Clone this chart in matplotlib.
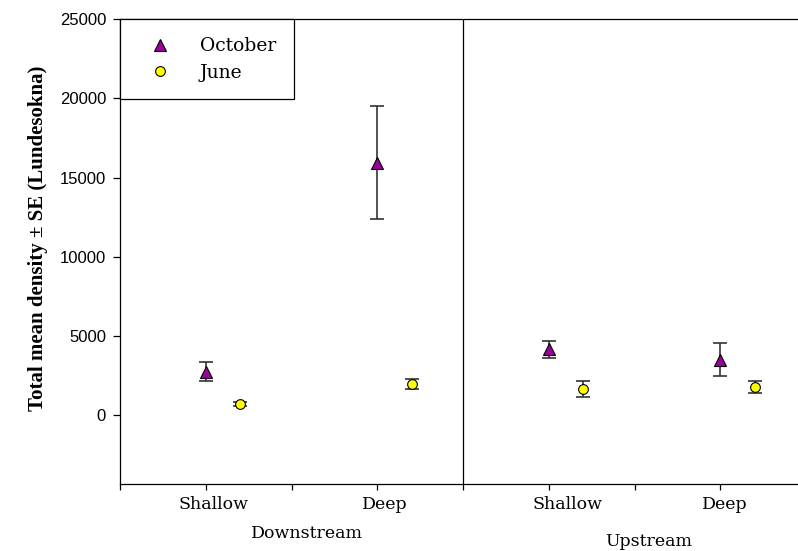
import matplotlib
matplotlib.use('Agg')
import matplotlib.pyplot as plt

# site / depth groups
groups = ['Downstream Shallow', 'Downstream Deep', 'Upstream Shallow', 'Upstream Deep']
x_pos = [1, 3, 5, 7]

# October values (mean, SE)
oct_mean = [2750, 15950, 4150, 3500]
oct_se = [580, 3580, 560, 1050]

# June values (mean, SE)
jun_mean = [700, 1980, 1650, 1780]
jun_se = [100, 330, 530, 380]

# category labels under the axis
tick_labels = ['Shallow', 'Deep', 'Shallow', 'Deep']
tick_label_pos = [1.09, 3.09, 5.22, 7.05]
site_labels = ['Downstream', 'Upstream']

june_x = [x + 0.4 for x in x_pos]

fig = plt.figure(figsize=(7.98, 5.51), dpi=100)
ax = fig.add_axes([120 / 798, 67 / 551, 686 / 798, 464.7 / 551])

# error bars first, markers on top
ax.errorbar(x_pos, oct_mean, yerr=oct_se, fmt='none', ecolor='#333333',
            elinewidth=1.2, capsize=5, capthick=1.2, zorder=2)
ax.errorbar(june_x, jun_mean, yerr=jun_se, fmt='none', ecolor='#333333',
            elinewidth=1.2, capsize=5, capthick=1.2, zorder=2)
ax.plot(x_pos, oct_mean, linestyle='none', marker='^', markersize=9,
        markerfacecolor='#9c009c', markeredgecolor='black', markeredgewidth=0.8,
        label='October', zorder=3)
ax.plot(june_x, jun_mean, linestyle='none', marker='o', markersize=7,
        markerfacecolor='#ffff00', markeredgecolor='black', markeredgewidth=0.8,
        label='June', zorder=3)

# divider between downstream and upstream
ax.axvline(4, color='black', linewidth=0.9, zorder=1)

ax.set_xlim(0, 8)
ax.set_ylim(-4350, 25000)

ax.set_yticks([0, 5000, 10000, 15000, 20000, 25000])
ax.set_yticklabels(['0', '5000', '10000', '15000', '20000', '25000'],
                   family='Liberation Sans', fontsize=12)
ax.set_xticks(range(0, 9))
ax.set_xticklabels([])
ax.tick_params(axis='y', direction='out', length=5, width=0.9, pad=5)
ax.tick_params(axis='x', direction='out', length=4, width=0.9)

for s in ['left', 'bottom', 'top']:
    ax.spines[s].set_linewidth(0.9)
ax.spines['right'].set_visible(False)

for lab, xp in zip(tick_labels, tick_label_pos):
    ax.text(xp, -0.045, lab, transform=ax.get_xaxis_transform(),
            ha='center', va='center', family='DejaVu Serif', fontsize=12.5)

fig.text(307 / 798, 1 - 533 / 551, site_labels[0], ha='center', va='center',
         family='DejaVu Serif', fontsize=12.5)
fig.text(649 / 798, 1 - 541 / 551, site_labels[1], ha='center', va='center',
         family='DejaVu Serif', fontsize=12.5)

fig.text(38 / 798, 1 - 238 / 551, 'Total mean density ± SE (Lundesokna)',
         rotation=90, ha='center', va='center', family='Liberation Serif',
         fontweight='bold', fontsize=15)

leg = ax.legend(loc='upper left', bbox_to_anchor=(0, 1), borderaxespad=0,
                prop={'family': 'DejaVu Serif', 'size': 13.5}, fancybox=False,
                framealpha=1, edgecolor='black', borderpad=0.95,
                handlelength=2.4, handletextpad=0.9, labelspacing=0.45)
leg.get_frame().set_linewidth(0.9)

fig.savefig('out.png', dpi=100)
